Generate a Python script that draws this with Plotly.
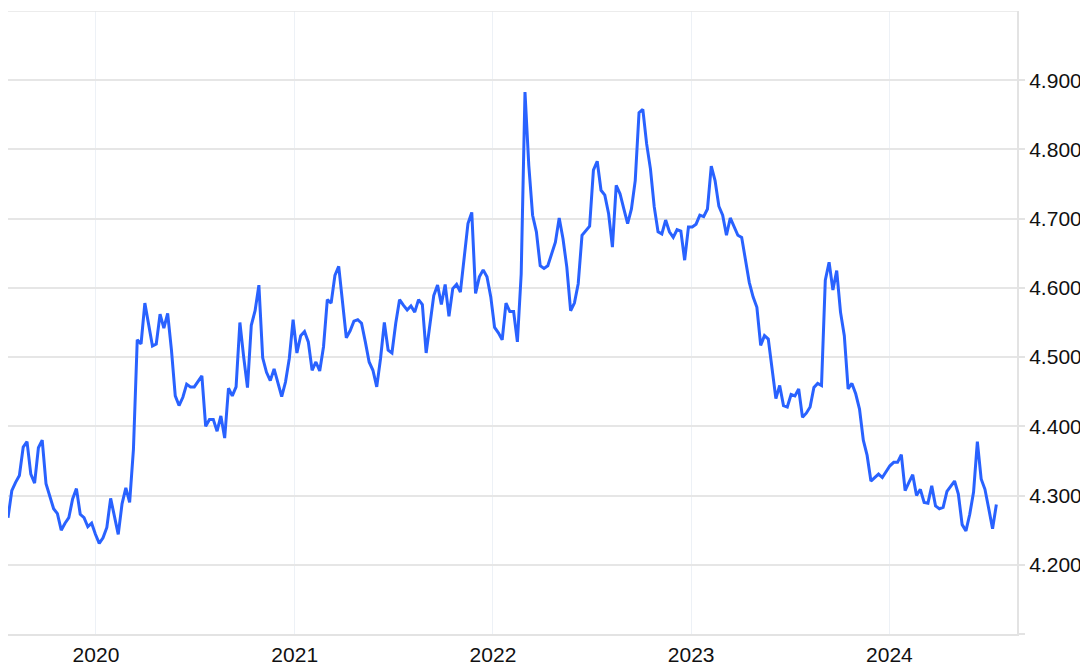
import pandas as pd
import plotly.graph_objects as go

START_DATE = "2019-07-23"

VALUES = [
    4.268, 4.307, 4.319, 4.329, 4.370, 4.378, 4.331, 4.318, 4.369, 4.380,
    4.317, 4.300, 4.281, 4.274, 4.250, 4.260, 4.268, 4.295, 4.310, 4.273,
    4.268, 4.255, 4.260, 4.244, 4.231, 4.239, 4.254, 4.296, 4.269, 4.244,
    4.288, 4.311, 4.290,
    4.367, 4.525, 4.519, 4.578, 4.546, 4.516, 4.519, 4.562, 4.542, 4.563,
    4.510, 4.444, 4.430, 4.442, 4.461, 4.457, 4.457, 4.465, 4.473, 4.400,
    4.410, 4.410, 4.393, 4.415, 4.383, 4.455, 4.444, 4.457, 4.550, 4.500,
    4.456, 4.546, 4.567, 4.604, 4.499, 4.478, 4.466, 4.483, 4.464, 4.443,
    4.464, 4.498, 4.554, 4.506, 4.531, 4.537, 4.522, 4.481, 4.493, 4.480,
    4.515, 4.583, 4.578, 4.618, 4.631, 4.582, 4.528, 4.538, 4.552, 4.554,
    4.549, 4.522, 4.493, 4.481, 4.457, 4.498, 4.550, 4.510, 4.506, 4.549,
    4.583,
    4.575, 4.568, 4.574, 4.565, 4.583, 4.576, 4.506, 4.546, 4.589, 4.604,
    4.576, 4.605, 4.559, 4.599, 4.605, 4.594, 4.640, 4.693, 4.709, 4.592,
    4.616, 4.626, 4.616, 4.587, 4.543, 4.535, 4.525, 4.578, 4.566, 4.566,
    4.522, 4.620, 4.883, 4.777, 4.705, 4.681, 4.632, 4.628, 4.632, 4.649,
    4.666, 4.701, 4.671, 4.630, 4.567, 4.578, 4.606, 4.676, 4.683, 4.689,
    4.770, 4.783, 4.741, 4.734, 4.707, 4.659, 4.748, 4.736, 4.714, 4.693,
    4.714, 4.755, 4.853, 4.858, 4.808, 4.772, 4.717, 4.681, 4.678, 4.698,
    4.681, 4.673, 4.684, 4.682, 4.640, 4.688, 4.688, 4.692, 4.705, 4.703,
    4.714, 4.776, 4.755, 4.718, 4.705, 4.676, 4.701, 4.688, 4.676, 4.673,
    4.637, 4.608, 4.587, 4.572, 4.517, 4.531, 4.526, 4.485, 4.440, 4.459,
    4.430, 4.428, 4.446, 4.444, 4.454, 4.413, 4.419, 4.428, 4.456, 4.462,
    4.459, 4.611, 4.637, 4.597, 4.625, 4.565, 4.531, 4.454, 4.462, 4.447,
    4.425, 4.380, 4.358, 4.321, 4.326, 4.331, 4.326, 4.334, 4.343, 4.348,
    4.348, 4.359, 4.307, 4.319, 4.330, 4.300, 4.309, 4.290, 4.289, 4.314,
    4.285, 4.281, 4.283, 4.306, 4.314, 4.321, 4.302, 4.258, 4.249, 4.273,
    4.305, 4.378, 4.324, 4.309, 4.281, 4.252, 4.287,
]

X_TICK_DATES = ["2020-01-01", "2021-01-01", "2022-01-01", "2023-01-01", "2024-01-01"]
X_TICK_LABELS = ["2020", "2021", "2022", "2023", "2024"]
Y_TICK_VALUES = [4.1, 4.2, 4.3, 4.4, 4.5, 4.6, 4.7, 4.8, 4.9]
Y_TICK_LABELS = ["", "4.200", "4.300", "4.400", "4.500", "4.600", "4.700", "4.800", "4.900"]
X_RANGE = ["2019-07-23", "2024-08-23"]
Y_RANGE = [4.1, 5.0]

dates = pd.date_range(START_DATE, periods=len(VALUES), freq="7D")

FONT = "Liberation Sans, Arial, Helvetica, sans-serif"

fig = go.Figure()
fig.add_trace(go.Scatter(
    x=dates, y=VALUES, mode="lines",
    line=dict(color="#2962ff", width=3),
    hoverinfo="x+y",
))

fig.update_layout(
    width=1088, height=665,
    margin=dict(l=0, r=79, t=3, b=39),
    paper_bgcolor="white", plot_bgcolor="white",
    showlegend=False,
    font=dict(family=FONT, size=21, color="#111111"),
)
fig.update_xaxes(
    type="date", range=X_RANGE,
    tickvals=X_TICK_DATES, ticktext=X_TICK_LABELS,
    showgrid=True, gridcolor="#edf1f6", gridwidth=1,
    showline=True, linecolor="#e3e3e3", linewidth=2, mirror=False,
    ticks="outside", ticklen=1, tickcolor="rgba(0,0,0,0)",
    zeroline=False,
)
fig.update_yaxes(
    side="right", range=Y_RANGE,
    tickvals=Y_TICK_VALUES, ticktext=Y_TICK_LABELS,
    showgrid=True, gridcolor="#e6e6e6", gridwidth=1.5,
    showline=True, linecolor="#e3e3e3", linewidth=2,
    ticks="outside", ticklen=6, tickcolor="#e3e3e3", tickwidth=1.5,
    zeroline=False,
)
# top border line at 5.0
fig.add_hline(y=5.0, line=dict(color="#e6e6e6", width=1.5))

fig.write_html("out.html")
